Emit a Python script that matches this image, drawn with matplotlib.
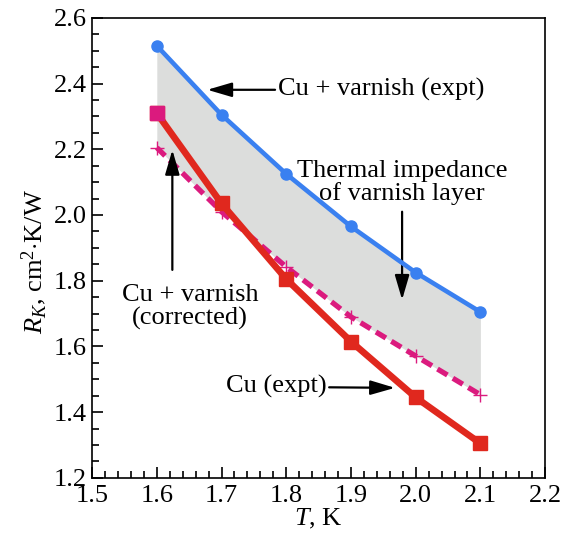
import matplotlib
matplotlib.use("Agg")
import matplotlib.pyplot as plt
from matplotlib.ticker import MultipleLocator, FormatStrFormatter

plt.rcParams['font.family'] = ['Liberation Serif', 'DejaVu Serif']
plt.rcParams['mathtext.fontset'] = 'custom'
plt.rcParams['mathtext.rm'] = 'Liberation Serif'
plt.rcParams['mathtext.it'] = 'Liberation Serif:italic'

T = [1.6, 1.7, 1.8, 1.9, 2.0, 2.1]
cu_varnish_expt = [2.515, 2.305, 2.125, 1.965, 1.825, 1.705]
cu_expt = [2.31, 2.035, 1.805, 1.615, 1.445, 1.305]
cu_varnish_corr = [2.205, 2.01, 1.842, 1.69, 1.571, 1.453]

BLUE = '#3a80f0'
RED = '#e0281e'
PINK = '#db1a7e'
GRAY = '#dcdddc'

fig = plt.figure(figsize=(5.72, 5.4), dpi=100)
ax = fig.add_axes([0.161, 0.115, 0.792, 0.852])

ax.fill_between(T, cu_varnish_corr, cu_varnish_expt, color=GRAY, lw=0, zorder=1)
ax.plot(T, cu_varnish_expt, color=BLUE, lw=3.3, marker='o', ms=8, zorder=4)
ax.plot(T, cu_expt, color=RED, lw=4.8, marker='s', ms=10, zorder=3)
ax.plot(T, cu_varnish_corr, color=PINK, lw=3.8, ls=(0, (2.2, 1.2)),
        marker='+', ms=10, mew=1, zorder=2)
ax.plot(T[:1], cu_expt[:1], ls='none', marker='s', ms=10, color=PINK, zorder=5)

ax.set_xlim(1.5, 2.2)
ax.set_ylim(1.2, 2.6)
ax.xaxis.set_major_locator(MultipleLocator(0.1))
ax.xaxis.set_minor_locator(MultipleLocator(0.02))
ax.yaxis.set_major_locator(MultipleLocator(0.2))
ax.yaxis.set_minor_locator(MultipleLocator(0.05))
ax.xaxis.set_major_formatter(FormatStrFormatter('%.1f'))
ax.yaxis.set_major_formatter(FormatStrFormatter('%.1f'))
ax.tick_params(which='both', direction='in', top=False, right=False,
               labelsize=19, width=1.2, color='black')
ax.tick_params(axis='x', which='major', length=8, pad=5)
ax.tick_params(axis='y', which='major', length=8, pad=4)
ax.tick_params(which='minor', length=5)
for s in ax.spines.values():
    s.set_linewidth(1.2)

ax.set_xlabel(r'$T$, K', fontsize=19, labelpad=0)
ax.set_ylabel(r'$R_K$, cm$^{2}$$\cdot$K/W', fontsize=19)
ax.yaxis.set_label_coords(-0.095, 0.47)

ap = dict(arrowstyle='-|>,head_length=0.75,head_width=0.22', lw=1.6,
          color='black', shrinkA=0, shrinkB=0, mutation_scale=20)
fs = 19
ax.annotate('Cu + varnish (expt)', xy=(1.678, 2.381), xytext=(1.787, 2.381),
            fontsize=fs, va='center', ha='left', arrowprops=ap)
ax.annotate('', xy=(1.979, 1.742), xytext=(1.979, 2.010), arrowprops=ap)
ax.text(1.979, 2.098, 'Thermal impedance\nof varnish layer', fontsize=fs,
        ha='center', va='center', linespacing=1.0)
ax.annotate('', xy=(1.624, 2.198), xytext=(1.624, 1.833), arrowprops=ap)
ax.text(1.651, 1.72, 'Cu + varnish\n(corrected)', fontsize=fs,
        ha='center', va='center', linespacing=1.0)
ax.annotate('Cu (expt)', xy=(1.968, 1.474), xytext=(1.862, 1.477),
            fontsize=fs, va='center', ha='right', arrowprops=ap)

fig.savefig('out.png', dpi=100)
